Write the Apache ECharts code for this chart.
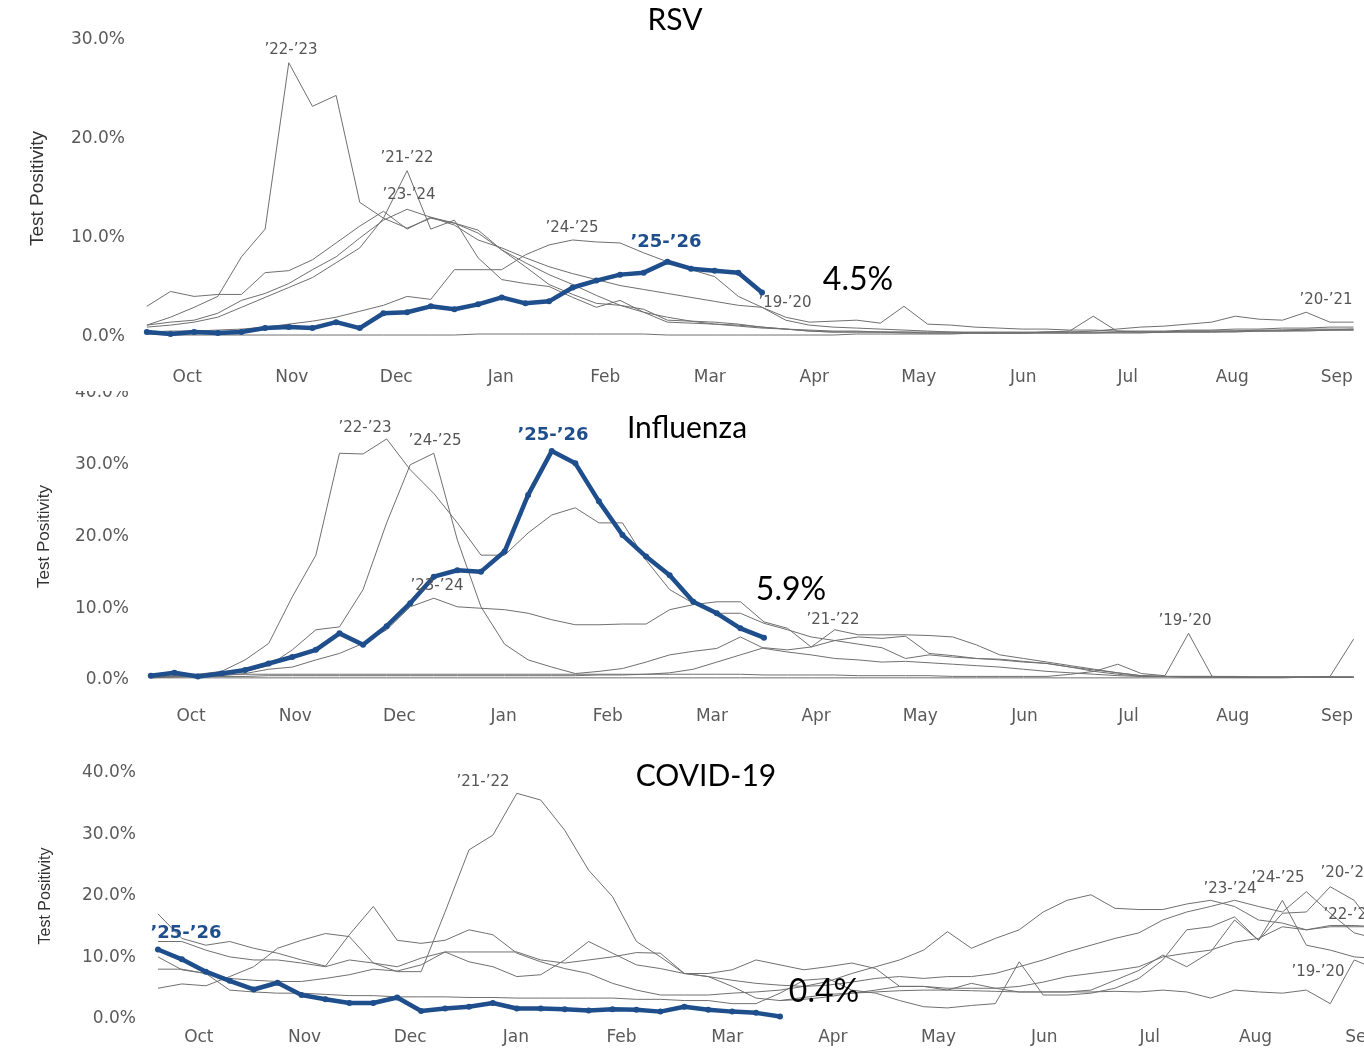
<!DOCTYPE html>
<html>
<head>
<meta charset="utf-8">
<title>Test Positivity by Season</title>
<script src="https://cdn.jsdelivr.net/npm/echarts@6/dist/echarts.min.js"></script>
<style>
html, body { margin: 0; padding: 0; background: #fff; }
#chart { width: 1364px; height: 1048px; }
</style>
</head>
<body>
<div id="chart"></div>
<script>
// MMWR weeks of a season, Oct -> Sep
var weeks = ['40','41','42','43','44','45','46','47','48','49','50','51','52',
  '1','2','3','4','5','6','7','8','9','10','11','12','13','14','15','16','17','18','19','20',
  '21','22','23','24','25','26','27','28','29','30','31','32','33','34','35','36','37','38','39','40'];
var months = ['Oct','Nov','Dec','Jan','Feb','Mar','Apr','May','Jun','Jul','Aug','Sep'];

// RSV test positivity (%)
var rsv1920 = [3.1,4.6,4.1,4.3,4.3,6.5,6.7,7.8,9.5,11.2,12.7,10.9,12.1,11.3,9.8,9.0,8.0,7.1,6.4,5.8,5.2,4.8,4.4,4.0,3.6,3.2,3.0,2.0,1.5,1.6,1.7,1.4,3.1,1.3,1.2,1.0,0.9,0.8,0.8,0.7,0.7,0.6,0.6,0.6,0.7,0.7,0.8,0.8,0.9,0.9,1.0,1.0];
var rsv2021 = [0.3,0.2,0.2,0.2,0.2,0.2,0.2,0.2,0.2,0.2,0.2,0.2,0.2,0.2,0.3,0.3,0.3,0.3,0.3,0.3,0.3,0.3,0.2,0.2,0.2,0.2,0.2,0.2,0.2,0.2,0.3,0.3,0.3,0.3,0.3,0.4,0.4,0.4,0.5,0.5,0.6,0.8,1.0,1.1,1.3,1.5,2.1,1.8,1.7,2.5,1.5,1.5];
var rsv2122 = [1.0,1.2,1.5,2.0,3.0,4.0,5.0,6.0,7.5,9.0,12.0,16.8,10.9,11.8,8.0,5.8,5.4,5.1,4.0,3.0,3.7,2.5,1.5,1.4,1.3,1.2,1.0,0.8,0.6,0.5,0.5,0.5,0.5,0.4,0.4,0.4,0.4,0.4,0.5,0.6,2.1,0.6,0.5,0.5,0.5,0.5,0.6,0.6,0.6,0.7,0.7,0.7];
var rsv2223 = [1.2,2.0,3.0,4.1,8.1,10.9,27.7,23.3,24.4,13.6,12.0,11.0,12.0,11.5,10.8,8.8,7.5,6.3,5.3,4.2,3.2,2.5,2.0,1.6,1.3,1.1,0.9,0.8,0.7,0.6,0.6,0.5,0.5,0.5,0.5,0.4,0.4,0.4,0.4,0.4,0.4,0.5,0.5,0.5,0.6,0.6,0.6,0.7,0.7,0.8,0.8,0.8];
var rsv2324 = [1.2,1.5,1.7,2.4,3.7,4.4,5.4,6.8,8.1,10.0,11.8,12.9,12.1,11.5,10.5,8.8,7.1,5.3,4.3,3.4,3.2,2.8,1.7,1.6,1.5,1.3,1.0,0.8,0.6,0.5,0.5,0.5,0.4,0.4,0.4,0.4,0.4,0.4,0.4,0.4,0.4,0.4,0.4,0.5,0.5,0.5,0.5,0.6,0.6,0.6,0.7,0.7];
var rsv2425 = [0.5,0.6,0.6,0.7,0.8,1.0,1.3,1.6,2.0,2.6,3.2,4.1,3.8,6.8,6.8,6.8,8.3,9.3,9.8,9.6,9.5,8.5,7.6,6.8,6.1,4.1,3.0,1.7,1.2,1.0,0.9,0.8,0.7,0.6,0.5,0.5,0.5,0.5,0.5,0.5,0.5,0.5,0.5,0.5,0.6,0.6,0.6,0.6,0.7,0.7,0.7,0.8];
var rsv2526 = [0.5,0.3,0.5,0.4,0.5,0.9,1.0,0.9,1.5,0.9,2.4,2.5,3.1,2.8,3.3,4.0,3.4,3.6,5.0,5.7,6.3,6.5,7.6,6.9,6.7,6.5,4.5];

// Influenza test positivity (%)
var flu1920 = [0.8,0.8,0.8,0.8,0.8,0.8,0.8,0.8,0.8,0.8,0.8,0.8,0.8,0.8,0.8,0.8,0.8,0.8,0.8,0.8,0.8,0.8,0.8,0.8,0.8,0.8,0.7,0.7,0.7,0.7,0.6,0.6,0.6,0.6,0.5,0.5,0.5,0.5,0.5,0.8,1.2,2.2,0.9,0.6,6.5,0.5,0.4,0.4,0.4,0.4,0.4,0.4];
var flu2021 = [0.3,0.3,0.3,0.3,0.3,0.3,0.3,0.3,0.3,0.3,0.3,0.3,0.3,0.3,0.3,0.3,0.3,0.3,0.3,0.3,0.3,0.3,0.3,0.3,0.3,0.3,0.3,0.3,0.3,0.3,0.3,0.3,0.3,0.3,0.3,0.3,0.3,0.3,0.3,0.3,0.3,0.3,0.3,0.3,0.3,0.3,0.3,0.3,0.3,0.4,0.5,5.7];
var flu2122 = [0.5,0.5,0.5,0.5,0.5,0.6,0.6,0.6,0.6,0.6,0.6,0.6,0.6,0.6,0.6,0.6,0.6,0.6,0.6,0.7,0.7,0.8,1.0,1.5,2.5,3.5,4.5,4.2,4.6,7.0,6.3,6.3,6.3,6.2,6.0,4.9,3.5,3.0,2.5,2.0,1.5,1.0,0.6,0.5,0.5,0.5,0.4,0.4,0.4,0.4,0.4,0.4];
var flu2223 = [0.5,0.6,0.8,1.2,2.8,5.1,11.6,17.4,31.6,31.5,33.6,29.3,26.0,21.9,17.4,17.4,20.5,23.0,24.0,21.9,21.9,16.7,12.6,10.7,9.3,9.3,7.9,7.0,6.0,5.5,5.0,4.5,3.0,3.5,3.2,3.0,2.8,2.5,2.3,1.8,1.4,1.0,0.6,0.5,0.4,0.4,0.4,0.4,0.4,0.4,0.4,0.4];
var flu2324 = [0.3,0.4,0.5,0.6,0.9,1.5,1.8,2.8,3.7,5.1,7.0,10.2,11.4,10.2,10.0,9.8,9.3,8.4,7.7,7.7,7.8,7.8,9.8,10.5,10.9,10.9,8.1,7.2,4.6,5.5,6.0,5.8,6.1,3.7,3.4,3.0,2.9,2.6,2.3,1.8,1.2,0.8,0.5,0.5,0.5,0.5,0.5,0.4,0.4,0.4,0.4,0.4];
var flu2425 = [0.4,0.5,0.6,0.8,1.2,2.0,4.2,7.0,7.4,12.6,21.9,30.0,31.6,19.5,10.2,5.0,2.8,1.8,0.9,1.2,1.6,2.5,3.5,4.0,4.4,6.0,4.4,3.9,3.5,3.0,2.8,2.5,2.6,2.4,2.2,2.0,1.8,1.5,1.2,1.0,0.8,0.6,0.5,0.5,0.4,0.4,0.4,0.4,0.4,0.4,0.4,0.4];
var flu2526 = [0.6,1.0,0.5,0.9,1.4,2.3,3.2,4.2,6.5,4.9,7.5,10.7,14.4,15.3,15.1,17.9,25.8,31.9,30.2,24.9,20.2,17.2,14.6,10.9,9.3,7.2,5.9];

// COVID-19 test positivity (%)
var cov1920 = [null,null,null,null,null,null,null,null,null,null,null,null,null,null,null,null,null,null,null,null,null,null,null,null,null,null,3.0,3.5,4.0,4.2,4.4,4.6,4.7,4.7,4.6,4.5,4.4,4.4,4.4,4.4,4.5,4.4,4.7,4.4,3.4,4.7,4.4,4.2,4.7,2.5,9.6,8.0];
var cov2021 = [12.6,12.6,11.2,10.1,9.6,9.6,9.1,8.5,9.6,9.1,8.5,9.9,10.9,10.9,10.9,10.9,9.6,9.1,9.6,10.1,10.8,10.7,7.4,7.4,8.0,9.6,8.8,8.0,8.5,9.1,8.2,5.3,5.3,4.7,5.8,5.0,4.4,4.4,4.4,4.7,6.3,7.9,10.4,8.5,10.9,16.1,12.8,17.2,17.4,21.5,19.3,14.0];
var cov2122 = [5.0,5.7,5.4,6.9,8.5,11.5,12.8,13.9,13.4,9.1,7.7,7.7,17.4,27.5,29.9,36.7,35.6,30.7,24.2,19.9,12.6,10.1,7.4,6.9,5.3,3.4,3.0,3.2,3.6,4.2,4.7,5.3,5.3,5.0,5.0,5.0,5.3,6.0,6.9,7.4,7.9,8.5,10.1,10.7,11.2,12.5,13.1,15.0,14.5,15.2,15.2,15.0];
var cov2223 = [17.1,13.1,12.0,12.6,11.5,10.7,9.6,8.6,13.7,18.3,12.8,12.3,12.8,14.5,13.7,10.7,9.3,8.2,7.4,5.8,4.7,3.9,3.9,3.9,4.2,4.4,4.7,5.3,6.1,7.4,8.5,9.6,11.2,14.2,11.5,13.1,14.5,17.4,19.3,20.2,18.0,17.8,17.8,18.7,19.3,18.3,16.1,15.6,14.5,15.0,15.0,15.0];
var cov2324 = [8.1,8.1,7.4,6.6,6.3,6.1,6.1,6.6,7.2,8.1,7.8,8.8,10.9,9.3,8.5,6.9,7.2,9.6,12.6,10.7,8.8,8.2,7.4,6.9,6.3,5.8,5.5,5.3,5.5,6.0,6.6,6.9,6.6,6.9,6.9,7.4,8.5,9.6,10.9,12.0,13.1,14.0,16.1,17.4,18.3,19.3,18.3,17.4,20.7,17.2,14.0,13.0];
var cov2425 = [10.1,8.0,7.4,4.7,4.4,4.2,4.2,4.0,3.8,3.8,3.6,3.6,3.6,3.5,3.5,3.4,3.4,3.4,3.4,3.4,3.2,3.2,3.0,3.0,2.5,2.5,4.2,6.3,6.6,4.7,4.2,3.0,2.0,1.8,2.2,2.5,9.3,3.9,3.9,4.2,5.0,6.6,9.6,14.5,15.0,16.6,12.8,19.3,12.0,11.2,10.1,9.8];
var cov2526 = [11.3,9.7,7.7,6.2,4.8,5.9,3.9,3.2,2.6,2.6,3.5,1.3,1.7,2.0,2.6,1.7,1.7,1.6,1.4,1.6,1.5,1.2,2.0,1.5,1.2,1.0,0.4];

var GREY = '#707070';
var BLUE = '#1f4e8c';
var TICK = '#5a5a5a';

// the plot areas run past the right edge of the page, as in the original screenshots
var panels = [
  { title: 'RSV', max: 30,
    grid: { left: 135, width: 1254, top: 40, height: 297 }, monthMargin: 32, nameGap: 88, nameSize: 19,
    seasons: [['19-20', rsv1920], ['20-21', rsv2021], ['21-22', rsv2122], ['22-23', rsv2223], ['23-24', rsv2324], ['24-25', rsv2425]],
    current: rsv2526 },
  { title: 'Influenza', max: 40,
    grid: { left: 139, width: 1250, top: 393, height: 287 }, monthMargin: 28, nameGap: 86, nameSize: 17,
    seasons: [['19-20', flu1920], ['20-21', flu2021], ['21-22', flu2122], ['22-23', flu2223], ['23-24', flu2324], ['24-25', flu2425]],
    current: flu2526 },
  { title: 'COVID-19', max: 40,
    grid: { left: 146, width: 1268, top: 773, height: 246 }, monthMargin: 10, nameGap: 92, nameSize: 16,
    seasons: [['19-20', cov1920], ['20-21', cov2021], ['21-22', cov2122], ['22-23', cov2223], ['23-24', cov2324], ['24-25', cov2425]],
    current: cov2526 }
];

// on-chart text, pixel positions
var titles = [['RSV', 675, 20], ['Influenza', 687, 428], ['COVID-19', 706, 776]];
var notes = [['4.5%', 858, 280], ['5.9%', 791, 590], ['0.4%', 824, 992]];
var seasonTags = [
  ['’22-’23', 291, 50], ['’21-’22', 407, 158], ['’23-’24', 409, 195], ['’24-’25', 572, 228],
  ['’19-’20', 785, 303], ['’20-’21', 1326, 300],
  ['’22-’23', 365, 428], ['’24-’25', 435, 441], ['’23-’24', 437, 586], ['’21-’22', 833, 620], ['’19-’20', 1185, 621],
  ['’21-’22', 483, 782], ['’23-’24', 1230, 889], ['’24-’25', 1278, 878], ['’20-’21', 1347, 873],
  ['’22-’23', 1350, 915], ['’19-’20', 1318, 972]
];
var currentTags = [['’25-’26', 666, 242], ['’25-’26', 553, 435], ['’25-’26', 186, 933]];

var grids = [], xAxes = [], yAxes = [], series = [], graphics = [];

panels.forEach(function(p, g) {
  p.grid.outerBoundsMode = 'none';
  grids.push(p.grid);
  xAxes.push({ type: 'category', gridIndex: g, data: weeks, boundaryGap: true, show: false });
  xAxes.push({
    type: 'category', gridIndex: g, data: months, boundaryGap: true, position: 'bottom',
    axisLine: { show: false }, axisTick: { show: false },
    axisLabel: { interval: 0, margin: p.monthMargin, color: TICK, fontSize: 17, fontFamily: 'DejaVu Sans' }
  });
  yAxes.push({
    type: 'value', gridIndex: g, min: 0, max: p.max, interval: 10,
    splitLine: { show: false }, axisLine: { show: false }, axisTick: { show: false },
    axisLabel: {
      margin: 10, color: TICK, fontSize: 17, fontFamily: 'DejaVu Sans',
      formatter: function(v) { return v.toFixed(1) + '%'; }
    },
    name: 'Test Positivity', nameLocation: 'middle', nameGap: p.nameGap,
    nameTextStyle: { color: '#333', fontSize: p.nameSize, fontFamily: 'Liberation Sans' }
  });
  p.seasons.forEach(function(s) {
    series.push({
      name: p.title + ' ' + s[0], type: 'line', xAxisIndex: g * 2, yAxisIndex: g,
      data: s[1], symbol: 'none', silent: true, z: 2,
      lineStyle: { color: GREY, width: 1 }
    });
  });
  series.push({
    name: p.title + ' 25-26', type: 'line', xAxisIndex: g * 2, yAxisIndex: g,
    data: p.current, symbol: 'circle', symbolSize: 6, silent: true, z: 5,
    itemStyle: { color: BLUE }, lineStyle: { color: BLUE, width: 4.5 }
  });
});

titles.forEach(function(t) {
  graphics.push({ type: 'text', x: t[1], y: t[2], z: 50,
    style: { text: t[0], fill: '#000', font: '30px Lato', textAlign: 'center', textVerticalAlign: 'middle' } });
});
notes.forEach(function(t) {
  graphics.push({ type: 'text', x: t[1], y: t[2], z: 50,
    style: { text: t[0], fill: '#000', font: '32px Lato', textAlign: 'center', textVerticalAlign: 'middle' } });
});
seasonTags.forEach(function(t) {
  graphics.push({ type: 'text', x: t[1], y: t[2], z: 50,
    style: { text: t[0], fill: '#555', font: '15px "DejaVu Sans"', textAlign: 'center', textVerticalAlign: 'middle' } });
});
currentTags.forEach(function(t) {
  graphics.push({ type: 'text', x: t[1], y: t[2], z: 50,
    style: { text: t[0], fill: BLUE, font: 'bold 18px "DejaVu Sans"', textAlign: 'center', textVerticalAlign: 'middle' } });
});
// the stacked panels clip the top of the influenza 40% label
graphics.push({ type: 'rect', x: 40, y: 379, z: 60, shape: { width: 100, height: 12 }, style: { fill: '#fff' } });

var myChart = echarts.init(document.getElementById('chart'));
var option = {
  backgroundColor: '#fff',
  animation: false,
  grid: grids,
  xAxis: xAxes,
  yAxis: yAxes,
  series: series,
  graphic: graphics
};
myChart.setOption(option);
</script>
</body>
</html>
